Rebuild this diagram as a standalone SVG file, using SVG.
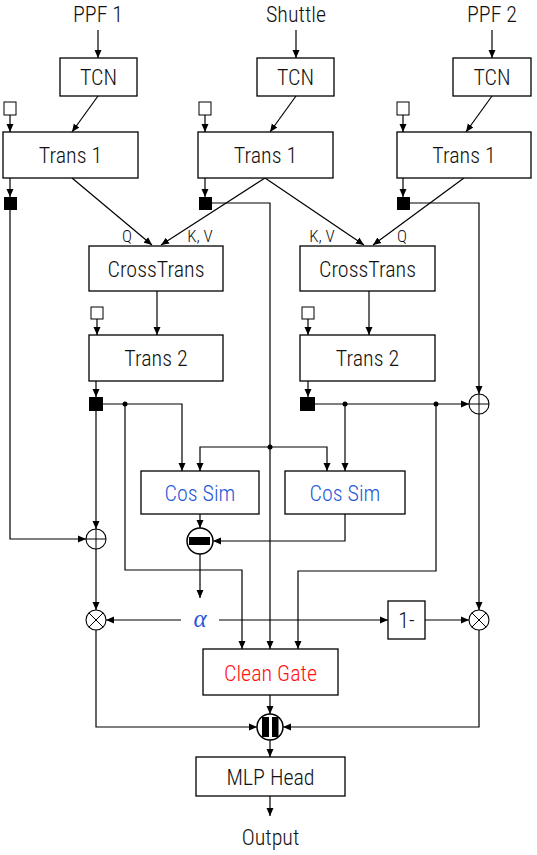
<svg xmlns="http://www.w3.org/2000/svg" width="537" height="855" viewBox="0 0 537 855">
<defs>
<marker id="ah" markerUnits="userSpaceOnUse" markerWidth="9" markerHeight="8" refX="8" refY="4" orient="auto">
<path d="M0,0.5 L8,4 L0,7.5 z" fill="#000"/>
</marker>
<style>
.box{fill:#fff;stroke:#000;stroke-width:1.3}
.sq{fill:#fff;stroke:#000;stroke-width:1}
.bsq{fill:#000}
.t{font-family:"Liberation Sans Narrow","Roboto Condensed","DejaVu Sans Condensed","Liberation Sans",sans-serif;font-size:22px;font-weight:300;text-anchor:middle;fill:#111}
.lbl{font-family:"Liberation Sans Narrow","Roboto Condensed","DejaVu Sans Condensed","Liberation Sans",sans-serif;font-size:17px;font-weight:300;text-anchor:middle;fill:#111}
.blue{fill:#1f5ad6}
.red{fill:#ff1010}
.c{fill:none;stroke:#000;stroke-width:1.2}
.a{marker-end:url(#ah)}
.op{fill:#fff;stroke:#000;stroke-width:1.1}
.opl{stroke:#000;stroke-width:1;fill:none}
.dot{fill:#000}
</style>
</defs>
<rect width="537" height="855" fill="#fff"/>

<g id="connectors">
<path class="c a" d="M98,30 V58"/>
<path class="c a" d="M296,30 V58"/>
<path class="c a" d="M492,30 V58"/>
<path class="c a" d="M98,96 L72,132"/>
<path class="c a" d="M296,96 L270,132"/>
<path class="c a" d="M492,96 L466,132"/>
<path class="c a" d="M10,115 V132"/>
<path class="c a" d="M205,115 V132"/>
<path class="c a" d="M403,115 V132"/>
<path class="c a" d="M10,178 V197"/>
<path class="c a" d="M205,178 V197"/>
<path class="c a" d="M403,178 V197"/>
<path class="c a" d="M72,178 L152,245"/>
<path class="c a" d="M265,178 L161,245"/>
<path class="c a" d="M265,178 L364,245"/>
<path class="c a" d="M464,178 L373,245"/>
<path class="c a" d="M10,210 V539 H86"/>
<path class="c a" d="M212,203 H270 V649"/>
<path class="c a" d="M410,203 H479 V394"/>
<path class="c a" d="M157,291 V335"/>
<path class="c a" d="M369,291 V335"/>
<path class="c a" d="M97,319 V335"/>
<path class="c a" d="M308,319 V335"/>
<path class="c a" d="M96,381 V397"/>
<path class="c a" d="M308,381 V397"/>
<path class="c a" d="M103,404 H182 V471"/>
<path class="c a" d="M125,404 V570 H242 V649"/>
<path class="c a" d="M96,411 V529"/>
<path class="c a" d="M96,549 V610"/>
<path class="c a" d="M315,404 H469"/>
<path class="c a" d="M345,404 V471"/>
<path class="c a" d="M436,404 V571 H298 V649"/>
<path class="c a" d="M270,447 H200 V471"/>
<path class="c a" d="M270,447 H327 V471"/>
<path class="c a" d="M200,514 V528"/>
<path class="c a" d="M345,514 V541 H213"/>
<path class="c a" d="M200,554 V598"/>
<path class="c a" d="M181,620 H106"/>
<path class="c a" d="M219,620 H388"/>
<path class="c a" d="M425,620 H469"/>
<path class="c a" d="M479,414 V610"/>
<path class="c a" d="M270,695 V714"/>
<path class="c a" d="M96,630 V727 H257"/>
<path class="c a" d="M479,630 V727 H283"/>
<path class="c a" d="M270,740 V757"/>
<path class="c a" d="M270,796 V816"/>
<circle class="dot" cx="125" cy="404" r="2.5"/>
<circle class="dot" cx="345" cy="404" r="2.5"/>
<circle class="dot" cx="436" cy="404" r="2.5"/>
<circle class="dot" cx="270" cy="447" r="2.5"/>
</g>

<g id="inputs">
<text class="t" x="98" y="22">PPF 1</text>
<text class="t" x="296" y="22">Shuttle</text>
<text class="t" x="492" y="22">PPF 2</text>
</g>

<g id="tcn1"><rect class="box" x="60" y="58" width="77" height="38"/><text class="t" x="98.5" y="85">TCN</text></g>
<g id="tcn2"><rect class="box" x="257" y="58" width="77" height="38"/><text class="t" x="295.5" y="85">TCN</text></g>
<g id="tcn3"><rect class="box" x="453" y="58" width="78" height="38"/><text class="t" x="492" y="85">TCN</text></g>

<g id="tok1"><rect class="sq" x="4" y="102" width="12" height="13"/></g>
<g id="tok2"><rect class="sq" x="199" y="102" width="12" height="13"/></g>
<g id="tok3"><rect class="sq" x="397" y="102" width="12" height="13"/></g>

<g id="trans1a"><rect class="box" x="3" y="132" width="135" height="46"/><text class="t" x="70.5" y="163">Trans 1</text></g>
<g id="trans1b"><rect class="box" x="198" y="132" width="135" height="46"/><text class="t" x="265.5" y="163">Trans 1</text></g>
<g id="trans1c"><rect class="box" x="397" y="132" width="134" height="46"/><text class="t" x="464" y="163">Trans 1</text></g>

<g id="cls1"><rect class="bsq" x="4" y="197" width="13" height="13"/></g>
<g id="cls2"><rect class="bsq" x="199" y="197" width="13" height="13"/></g>
<g id="cls3"><rect class="bsq" x="397" y="197" width="13" height="13"/></g>

<g id="labels">
<text class="lbl" x="127" y="242">Q</text>
<text class="lbl" x="200" y="242">K, V</text>
<text class="lbl" x="322" y="242">K, V</text>
<text class="lbl" x="402" y="242">Q</text>
</g>

<g id="crosstrans1"><rect class="box" x="89" y="246" width="134" height="45"/><text class="t" x="156" y="277">CrossTrans</text></g>
<g id="crosstrans2"><rect class="box" x="300" y="246" width="135" height="45"/><text class="t" x="367.5" y="277">CrossTrans</text></g>

<g id="tok4"><rect class="sq" x="91" y="307" width="12" height="12"/></g>
<g id="tok5"><rect class="sq" x="302" y="307" width="12" height="12"/></g>

<g id="trans2a"><rect class="box" x="89" y="335" width="134" height="46"/><text class="t" x="156" y="366">Trans 2</text></g>
<g id="trans2b"><rect class="box" x="300" y="335" width="135" height="46"/><text class="t" x="367.5" y="366">Trans 2</text></g>

<g id="cls4"><rect class="bsq" x="89" y="397" width="14" height="14"/></g>
<g id="cls5"><rect class="bsq" x="300" y="397" width="15" height="14"/></g>

<g id="cossim1"><rect class="box" x="141" y="471" width="118" height="43"/><text class="t blue" x="200" y="501">Cos Sim</text></g>
<g id="cossim2"><rect class="box" x="285" y="471" width="120" height="43"/><text class="t blue" x="345" y="501">Cos Sim</text></g>

<g id="plus1"><circle class="op" cx="96" cy="539" r="10"/><path class="opl" d="M86,539 H106 M96,529 V549"/></g>
<g id="plus2"><circle class="op" cx="479" cy="404" r="10"/><path class="opl" d="M469,404 H489 M479,394 V414"/></g>

<g id="minus"><circle cx="200" cy="541" r="13" fill="#fff" stroke="#000" stroke-width="1.5"/><rect x="189" y="537" width="21" height="8" fill="#000"/></g>

<g id="times1"><circle class="op" cx="96" cy="620" r="10"/><path class="opl" d="M89,613 L103,627 M103,613 L89,627"/></g>
<g id="times2"><circle class="op" cx="479" cy="620" r="10"/><path class="opl" d="M472,613 L486,627 M486,613 L472,627"/></g>

<g id="alpha"><text x="200" y="627" font-family="'Liberation Serif','DejaVu Serif',serif" font-style="italic" font-size="25" text-anchor="middle" fill="#1f5ad6">α</text></g>

<g id="oneminus"><rect class="box" x="388" y="601" width="37" height="38"/><text class="t" x="406.5" y="628">1-</text></g>

<g id="cleangate"><rect class="box" x="203" y="649" width="135" height="46"/><text class="t red" x="270.5" y="681">Clean Gate</text></g>

<g id="concat"><circle cx="270" cy="727" r="13" fill="#fff" stroke="#000" stroke-width="1.5"/><rect x="262" y="717" width="7" height="20" fill="#000"/><rect x="272" y="717" width="6.5" height="20" fill="#000"/></g>

<g id="mlp"><rect class="box" x="196" y="757" width="149" height="39"/><text class="t" x="270.5" y="785">MLP Head</text></g>

<g id="output"><text class="t" x="270.5" y="845">Output</text></g>
</svg>
